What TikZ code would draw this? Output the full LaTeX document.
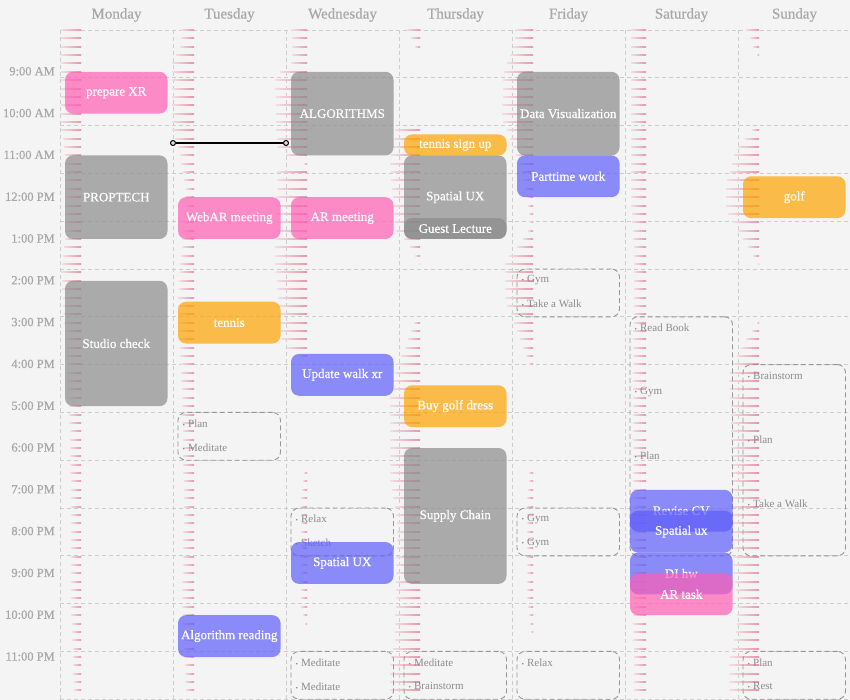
\documentclass[tikz,border=0pt]{standalone}
\usepackage{fontspec}
\setmainfont{Liberation Serif}
\newfontfamily\evfam{Liberation Serif}[FakeBold=0.5]
\definecolor{bgc}{RGB}{244,244,244}
\definecolor{gridc}{RGB}{205,205,205}
\definecolor{stripec}{RGB}{230,150,170}
\definecolor{stripel}{RGB}{242,222,226}
\definecolor{pinkc}{RGB}{255,94,181}
\definecolor{grayc}{RGB}{139,139,139}
\definecolor{bluec}{RGB}{93,93,250}
\definecolor{orangec}{RGB}{255,163,0}
\definecolor{dashc}{RGB}{150,150,150}
\definecolor{itemc}{RGB}{140,140,140}
\definecolor{labc}{RGB}{168,168,168}
\newcommand\evfont{\evfam\fontsize{13}{15}\selectfont}
\newcommand\itemfont{\fontsize{11}{12}\selectfont}
\newcommand\timefont{\evfam\fontsize{12.5}{14}\selectfont}
\newcommand\dayfont{\evfam\fontsize{15}{17}\selectfont}
\newcommand\bul{{\fontsize{7}{7}\selectfont\textbullet}\hspace{3pt}}
\newcommand\mystripes[2]{%
  \gdef\py{-1}\gdef\pl{0}%
  \foreach \ky/\kl in {#2}{%
    \ifdim\py pt>-0.5pt
      \pgfmathtruncatemacro\ia{ceil((\py-30)/8.36)}%
      \pgfmathtruncatemacro\ib{ceil((\ky-30)/8.36)-1}%
      \ifnum\ib<\ia\else
        \foreach \ii in {\ia,...,\ib}{%
          \pgfmathsetmacro\yr{30+8.36*\ii}%
          \pgfmathtruncatemacro\yy{round(\yr)}%
          \pgfmathtruncatemacro\LL{round(\pl+(\kl-\pl)*(\yr-\py)/(\ky-\py))}%
          \ifnum\LL>0
            \shade[left color=stripel, right color=stripec] ({#1+21-\LL},{\yy-0.8}) rectangle ({#1+21},{\yy+0.8});%
          \fi
        }%
      \fi
    \fi
    \xdef\py{\ky}\xdef\pl{\kl}%
  }}
\newcommand\evt[6]{\node[evbox, fill=#5, minimum height={41.8*(#4-#3)}] (#1) at ({#2+56.25},{30+41.8*((#3+#4)/2-8)}) {#6};}
\newcommand\dbx[4]{\node[dbox, minimum height={47.8*#4}] (#1) at ({#2+56.25},{30+47.8*(#3+#4/2)}) {};}
\newcommand\itm[4]{\node[item] (#1) at ({#2+9.5},{#3+1.5}) {\bul #4};}
\begin{document}
\begin{tikzpicture}[x=1pt,y=-1pt,
  gridline/.style={draw=gridc, line width=0.9pt, dash pattern=on 4pt off 3pt},
  evbox/.style={rounded corners=8pt, fill opacity=0.7, text opacity=1, text=white, minimum width=102.5pt, inner sep=0pt, font=\evfont},
  dbox/.style={draw=dashc, rounded corners=8pt, dash pattern=on 5pt off 3pt, line width=0.9pt, minimum width=102.5pt, inner sep=0pt},
  item/.style={anchor=west, inner sep=0pt, text=itemc, font=\itemfont},
  timelab/.style={anchor=east, inner sep=0pt, text=labc, font=\timefont},
  daylab/.style={inner sep=0pt, text=labc, font=\dayfont},
  tdot/.style={circle, draw=black, fill=white!70!gray, line width=1pt, minimum size=5pt, inner sep=0pt}]
\useasboundingbox (0,0) rectangle (850,700);
\fill[bgc] (0,0) rectangle (850,700);
% grid
\foreach \c in {60,173,286,399,512,625,738}{\draw[gridline] (\c,30) -- (\c,700);}
\foreach \r in {0,...,14}{\draw[gridline] (60,{30+47.8*\r}) -- (850,{30+47.8*\r});}
% stripes
\mystripes{60}{30/20, 130/20, 150/16, 240/16, 270/20, 300/18, 400/12, 500/10, 600/10, 695/7}
\mystripes{173}{30/13, 54/14, 56/22, 130/22, 150/15, 190/8, 240/12, 300/16, 400/12, 500/10, 600/12, 695/8}
\mystripes{286}{30/15, 63/15, 76/32, 154/30, 158/3, 168/3, 172/30, 263/32, 345/25, 354/8, 363/0, 467/0, 469/3, 497/6, 605/6, 631/0, 695/0}
\mystripes{399}{30/13, 53/2, 55/0, 125/0, 130/25, 160/30, 230/25, 243/12, 262/2, 265/0, 315/0, 318/5, 340/12, 370/25, 400/30, 480/30, 520/23, 640/25, 660/30, 695/30}
\mystripes{512}{30/16, 46/20, 76/30, 120/31, 140/22, 160/15, 200/5, 228/3, 246/15, 260/28, 300/28, 320/20, 367/3, 370/0, 465/0, 467/3, 500/6, 600/6, 631/2, 635/0, 695/0}
\mystripes{625}{30/15, 200/15, 250/12, 400/13, 600/13, 695/12}
\mystripes{738}{30/13, 55/2, 57/0, 122/0, 124/2, 150/23, 185/33, 211/33, 237/17, 263/2, 265/0, 321/0, 323/2, 350/20, 376/30, 410/28, 540/28, 600/22, 627/22, 660/30, 697/30}
% dashed boxes
\dbx{d1}{173}{8}{1}
\itm{i1}{173}{421.9}{Plan}\itm{i2}{173}{445.8}{Meditate}
\dbx{d2}{286}{10}{1}
\itm{i3}{286}{517.5}{Relax}\itm{i4}{286}{541.4}{Sketch}
\dbx{d3}{286}{13}{1}
\itm{i5}{286}{660.9}{Meditate}\itm{i6}{286}{684.8}{Meditate}
\dbx{d4}{399}{13}{1}
\itm{i7}{399}{660.9}{Meditate}\itm{i8}{399}{684.8}{Brainstorm}
\dbx{d5}{512}{5}{1}
\itm{i9}{512}{278.5}{Gym}\itm{i10}{512}{302.4}{Take a Walk}
\dbx{d6}{512}{10}{1}
\itm{i11}{512}{517.5}{Gym}\itm{i12}{512}{541.4}{Gym}
\dbx{d7}{512}{13}{1}
\itm{i13}{512}{660.9}{Relax}
\dbx{d8}{625}{6}{5}
\itm{i14}{625}{326.3}{Read Book}\itm{i15}{625}{390.3}{Gym}\itm{i16}{625}{454.3}{Plan}
\dbx{d9}{738}{7}{4}
\itm{i17}{738}{374.1}{Brainstorm}\itm{i18}{738}{438.1}{Plan}\itm{i19}{738}{502.1}{Take a Walk}
\dbx{d10}{738}{13}{1}
\itm{i20}{738}{660.9}{Plan}\itm{i21}{738}{684.8}{Rest}
% events
\evt{e1}{60}{9}{10}{pinkc}{prepare XR}
\evt{e2}{60}{11}{13}{grayc}{PROPTECH}
\evt{e3}{60}{14}{17}{grayc}{Studio check}
\evt{e4}{173}{12}{13}{pinkc}{WebAR meeting}
\evt{e5}{173}{14.5}{15.5}{orangec}{tennis}
\evt{e6}{173}{22}{23}{bluec}{Algorithm reading}
\evt{e7}{286}{9}{11}{grayc}{ALGORITHMS}
\evt{e8}{286}{12}{13}{pinkc}{AR meeting}
\evt{e9}{286}{15.75}{16.75}{bluec}{Update walk xr}
\evt{e10}{286}{20.25}{21.25}{bluec}{Spatial UX}
\evt{e11}{399}{10.5}{11}{orangec}{tennis sign up}
\evt{e12}{399}{11}{13}{grayc}{Spatial UX}
\evt{e13}{399}{12.5}{13}{grayc}{Guest Lecture}
\evt{e14}{399}{16.5}{17.5}{orangec}{Buy golf dress}
\evt{e15}{399}{18}{21.25}{grayc}{Supply Chain}
\evt{e16}{512}{9}{11}{grayc}{Data Visualization}
\evt{e17}{512}{11}{12}{bluec}{Parttime work}
\evt{e18}{625}{19}{20}{bluec}{Revise CV}
\evt{e19}{625}{19.5}{20.5}{bluec}{Spatial ux}
\evt{e20}{625}{20.5}{21.5}{bluec}{DI hw}
\evt{e21}{625}{21}{22}{pinkc}{AR task}
\evt{e22}{738}{11.5}{12.5}{orangec}{golf}
% current time line
\node[tdot] (t1) at (173,143) {};
\node[tdot] (t2) at (286,143) {};
\draw[line width=1.5pt] (t1) -- (t2);
% labels
\foreach \h/\lab [count=\n] in {9/{9:00 AM},10/{10:00 AM},11/{11:00 AM},12/{12:00 PM},13/{1:00 PM},14/{2:00 PM},15/{3:00 PM},16/{4:00 PM},17/{5:00 PM},18/{6:00 PM},19/{7:00 PM},20/{8:00 PM},21/{9:00 PM},22/{10:00 PM},23/{11:00 PM}}{
  \node[timelab] (tl\n) at (55,{30+41.8*(\h-8)-0.5}) {\lab};}
\foreach \d/\c [count=\n] in {Monday/60,Tuesday/173,Wednesday/286,Thursday/399,Friday/512,Saturday/625,Sunday/738}{
  \node[daylab] (dl\n) at ({\c+56.5},15) {\d};}
\end{tikzpicture}
\end{document}
